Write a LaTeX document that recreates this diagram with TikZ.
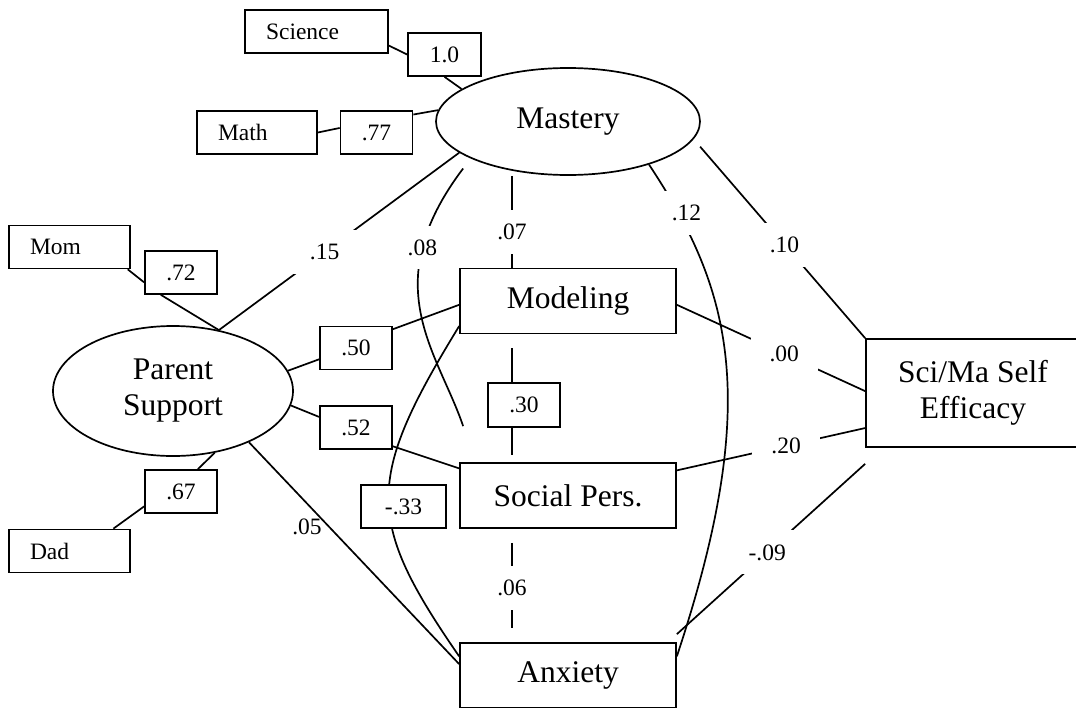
\documentclass[tikz,border=0pt]{standalone}
\usepackage{fontspec}
\setmainfont{Liberation Serif}
\usetikzlibrary{shapes.geometric}

\def \lineWidth {1.7pt}
\def \bigFont {\fontsize{31.5}{36}\selectfont}
\def \smallFont {\fontsize{23.5}{28}\selectfont}

\tikzset{
  latent/.style={draw, ellipse, inner sep=0pt, align=center, font=\bigFont},
  construct/.style={draw, rectangle, inner sep=0pt, align=center, font=\bigFont,
    minimum width=216pt, minimum height=65pt},
  indicator/.style={draw, rectangle, align=left, inner xsep=21pt, inner ysep=0pt,
    minimum height=43pt, font=\smallFont},
  loading/.style={draw, rectangle, fill=white, inner sep=0pt,
    minimum width=72pt, minimum height=43pt, font=\smallFont},
  coef/.style={fill=white, inner xsep=19pt, inner ysep=14pt, font=\smallFont},
}

\begin{document}
\begin{tikzpicture}[x=1pt, y=-1pt, line width=\lineWidth]
  \useasboundingbox (0,0) rectangle (1076,707);
  \coordinate (vx) at (512,0);

  % factors and scales
  \node[latent, minimum width=264pt, minimum height=107pt] (Mastery) at (568,121.5) {Mastery};
  \node[latent, minimum width=240pt, minimum height=130pt] (Parent) at (173,391) {Parent\\Support};
  \node[construct] (Modeling) at (568,301) {Modeling};
  \node[construct] (Social) at (568,495.5) {Social Pers.};
  \node[construct] (Anxiety) at (568,675.5) {Anxiety};
  \node[construct, minimum width=214pt, minimum height=108pt] (Efficacy) at (973,393) {Sci/Ma Self\\Efficacy};

  \node[indicator, text width=101pt] (Science) at (316.5,31.5) {Science};
  \node[indicator, text width=78pt] (Math) at (257,132.5) {Math};
  \node[indicator, text width=79pt] (Mom) at (69.5,247) {Mom};
  \node[indicator, text width=79pt] (Dad) at (69.5,551) {Dad};

  \node[loading, minimum width=73pt] (lScience) at (444.5,54.5) {1.0};
  \node[loading] (lMath) at (376.5,132.5) {.77};
  \node[loading] (lMom) at (181,272.5) {.72};
  \node[loading] (lDad) at (181,491.5) {.67};
  \node[loading] (lModel) at (356,348) {.50};
  \node[loading] (lSocial) at (356,427.5) {.52};
  \node[loading, minimum height=44pt] (lVert) at (524,405) {.30};

  % measurement
  \draw (Science.-11) -- (lScience.west);
  \draw (lScience.south) -- (Mastery.163);
  \draw (Math.east) -- (lMath.173);
  \draw (lMath.26) -- (Mastery.175);
  \draw (Mom.-21) -- (lMom.195);
  \draw (lMom.228) -- (Parent.53);
  \draw (Parent.-56) -- (lDad.53);
  \draw (lDad.202) -- (Dad.27);

  % paths
  \draw (Parent.10) -- (lModel.197);
  \draw (lModel.27) -- (Modeling.182);
  \draw (Parent.-7) -- (lSocial.164);
  \draw (lSocial.-27) -- (Social.166);
  \draw (Mastery.196) -- node[coef, pos=0.56] {.15} (Parent.53);
  \draw (Parent.-34) -- (Anxiety.174) node[font=\smallFont, pos=0.38, left=3pt] {.05};
  \draw (Mastery.south -| vx) -- node[coef, pos=0.61] {.07} (Modeling.north -| vx);
  \draw[shorten <=14pt] (Modeling.south -| vx) -- (lVert.north -| vx);
  \draw[shorten >=7pt] (lVert.south -| vx) -- (Social.north -| vx);
  \draw[shorten <=14pt, shorten >=14pt] (Social.south -| vx) -- node[coef, pos=0.52] {.06} (Anxiety.north -| vx);
  \draw ([shift={(-15pt,-7pt)}]Mastery.204) .. controls (375,285) and (438,352) .. ([shift={(4pt,36pt)}]Social.north west)
    node[coef, pos=0.25] {.08};
  \draw (Mastery.-28) .. controls (732,290) and (762,400) .. (Anxiety.10)
    node[coef, pos=0.13, xshift=8pt] {.12};
  \draw (Modeling.193) .. controls (365,480) and (365,520) .. (Anxiety.170)
    node[loading, minimum width=85pt, pos=0.5, xshift=15pt, yshift=-9pt] (lAnx) {-.33};
  \draw[shorten <=10pt] (Mastery.-8) -- node[coef, pos=0.53] {.10} (Efficacy.north west);
  \draw (Modeling.-2) -- node[coef, pos=0.57] {.00} (Efficacy.179);
  \draw (Social.13) -- node[coef, pos=0.58] {.20} (Efficacy.198);
  \draw ([yshift=8pt]Anxiety.north east) -- node[coef, pos=0.48] {-.09} ([yshift=-16pt]Efficacy.south west);
\end{tikzpicture}
\end{document}
